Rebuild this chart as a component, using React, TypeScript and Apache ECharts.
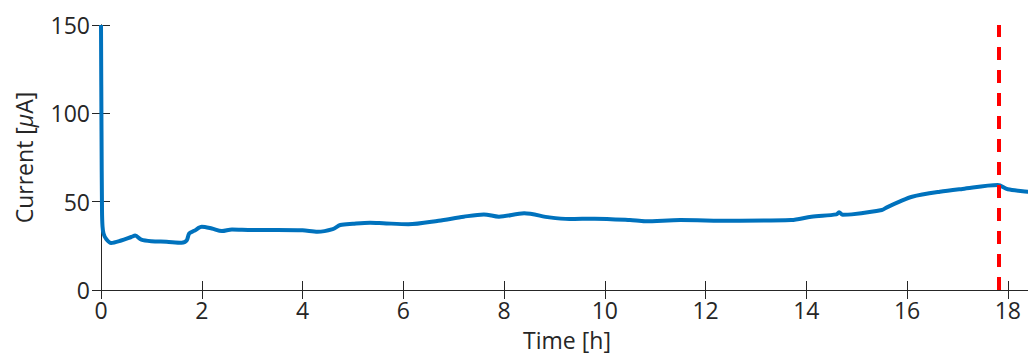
import React, { useEffect, useRef } from "react";
import * as echarts from "echarts";

// Time (h) and current (µA) samples of the measured trace
const timeH = [
  0, 0.01, 0.02, 0.03, 0.05, 0.1, 0.2, 0.4, 0.6, 0.68, 0.8, 1.0, 1.3, 1.6, 1.7, 1.75, 1.85, 2.0,
  2.2, 2.4, 2.6, 3.0, 3.5, 4.0, 4.3, 4.6, 4.75, 5.0, 5.34, 5.6, 6.1, 6.7, 7.2, 7.6, 7.9, 8.4,
  8.9, 9.3, 9.8, 10.5, 10.8, 11.5, 12.5, 13.7, 14.1, 14.6, 14.65, 14.72, 14.9, 15.5, 15.6, 15.85,
  16.1, 16.65, 17.1, 17.8, 18.0, 18.4, 18.5,
];
const currentUA = [
  150, 90, 45, 36, 32, 29, 26.6, 28, 30, 30.8, 28.5, 27.6, 27.3, 26.8, 28, 32, 33.5, 35.8,
  34.8, 33.4, 34.3, 34, 34, 33.8, 33, 34.5, 36.8, 37.5, 38.1, 37.8, 37.2, 39.2, 41.5, 42.8, 41.5, 43.4,
  41.1, 40.2, 40.4, 39.6, 38.9, 39.6, 39.2, 39.6, 41.5, 42.8, 44, 42.6, 42.8, 45.3, 46.8, 50,
  52.8, 55.6, 57.2, 59.4, 57, 55.6, 55,
];

// Vertical marker time (h)
const markerTime = 17.82;

const xTicks = { min: 0, max: 18.5, interval: 2 };
const yTicks = { min: 0, max: 150, interval: 50 };

const textColor = "#262626";
const fontFamily = "'Open Sans', 'Noto Sans', sans-serif";

export default function App() {
  const ref = useRef<HTMLDivElement>(null);

  useEffect(() => {
    if (!ref.current) return;
    const chart = echarts.init(ref.current, undefined, { renderer: "svg" });
    const axisLine = { show: true, lineStyle: { color: textColor, width: 1 } };
    const tick = { show: true, inside: true, length: 9, lineStyle: { color: textColor, width: 1 } };
    const label = { color: textColor, fontSize: 23, fontFamily };

    chart.setOption({
      animation: false,
      grid: { left: 101, top: 25, width: 932, height: 265 },
      xAxis: [
        {
          type: "value",
          ...xTicks,
          name: "Time [h]",
          nameLocation: "middle",
          nameGap: 38,
          nameTextStyle: { color: textColor, fontSize: 23, fontFamily },
          axisLine,
          axisTick: tick,
          axisLabel: { ...label, margin: 8, showMaxLabel: false },
          splitLine: { show: false },
        },
        {
          type: "value",
          position: "top",
          ...xTicks,
          axisLine,
          axisTick: tick,
          axisLabel: { show: false },
          splitLine: { show: false },
        },
      ],
      yAxis: [
        {
          type: "value",
          ...yTicks,
          name: "Current [{mu|μ}A]",
          nameLocation: "middle",
          nameRotate: 90,
          nameGap: 66,
          nameTextStyle: {
            color: textColor,
            fontSize: 23,
            fontFamily,
            rich: { mu: { color: textColor, fontSize: 23, fontFamily, fontStyle: "italic" } },
          },
          axisLine,
          axisTick: tick,
          axisLabel: { ...label, margin: 11 },
          splitLine: { show: false },
        },
        {
          type: "value",
          position: "right",
          ...yTicks,
          axisLine,
          axisTick: tick,
          axisLabel: { show: false },
          splitLine: { show: false },
        },
      ],
      series: [
        {
          type: "line",
          data: timeH.map((t, i) => [t, currentUA[i]]),
          showSymbol: false,
          smooth: 0.3,
          lineStyle: { color: "#0072BD", width: 4 },
          markLine: {
            silent: true,
            symbol: ["none", "none"],
            label: { show: false },
            lineStyle: { color: "#FF0000", width: 4, type: [13, 10] },
            data: [{ xAxis: markerTime }],
          },
        },
      ],
    });
    return () => chart.dispose();
  }, []);

  return (
    <div style={{ position: "fixed", left: 0, top: 0, width: 1028, height: 358, overflow: "hidden", background: "#fff" }}>
      <div ref={ref} style={{ width: 1040, height: 358 }} />
    </div>
  );
}
